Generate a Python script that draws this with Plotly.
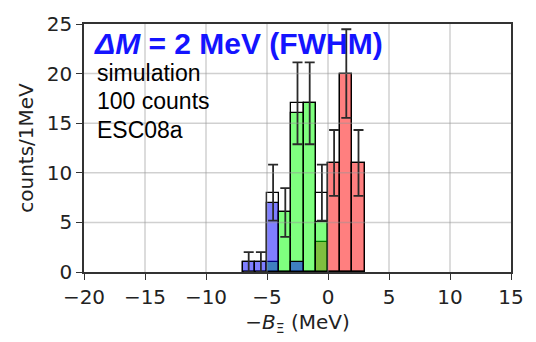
import numpy as np
import plotly.graph_objects as go

# 1 MeV bins (left edges) and counts per component
bin_left = [-7, -6, -5, -4, -3, -2, -1, 0, 1, 2]
total = [1, 1, 8, 6, 17, 17, 8, 11, 20, 11]
blue = [1, 1, 7, 0, 1, 0, 0, 0, 0, 0]
green = [0, 0, 1, 6, 16, 17, 5, 0, 0, 0]
red = [0, 0, 0, 0, 0, 0, 3, 11, 20, 11]

x_ticks = [-20, -15, -10, -5, 0, 5, 10, 15]
y_ticks = [0, 5, 10, 15, 20, 25]

centers = [b + 0.5 for b in bin_left]
errors = [float(np.sqrt(v)) for v in total]

edge = dict(color="black", width=1.3)

fig = go.Figure()
fig.add_trace(go.Bar(x=centers, y=total, width=1, marker=dict(color="white", line=edge)))
fig.add_trace(go.Bar(x=centers, y=red, width=1, marker=dict(color="rgba(255,0,0,0.5)", line=edge)))
fig.add_trace(go.Bar(x=centers, y=green, width=1, marker=dict(color="rgba(0,255,0,0.5)", line=edge)))
fig.add_trace(go.Bar(x=centers, y=blue, width=1, marker=dict(color="rgba(0,0,255,0.5)", line=edge)))
# Poisson error bars on the total counts
fig.add_trace(go.Scatter(
    x=centers, y=total, mode="markers",
    marker=dict(size=1, color="rgba(0,0,0,0)"),
    error_y=dict(type="data", array=errors, visible=True, color="#2a2a2a",
                 thickness=1.8, width=5),
))

# grid drawn over the bars, semi-transparent
shapes = []
for xv in x_ticks[1:-1]:
    shapes.append(dict(type="line", xref="x", yref="paper", x0=xv, x1=xv, y0=0, y1=1,
                       line=dict(color="rgba(150,150,150,0.45)", width=1.5), layer="above"))
for yv in y_ticks[1:-1]:
    shapes.append(dict(type="line", xref="paper", yref="y", x0=0, x1=1, y0=yv, y1=yv,
                       line=dict(color="rgba(150,150,150,0.45)", width=1.5), layer="above"))

tick_font = dict(family="DejaVu Sans", size=20, color="#222222")
axis_common = dict(showgrid=False, zeroline=False, showline=True, linecolor="#333333",
                   linewidth=1.5, mirror=True, ticks="outside", ticklen=6, tickwidth=1.3,
                   tickcolor="#333333", tickfont=tick_font)

fig.update_layout(
    width=536, height=342,
    margin=dict(l=84, r=23, t=16, b=69),
    paper_bgcolor="white", plot_bgcolor="white",
    barmode="overlay", bargap=0, showlegend=False,
    shapes=shapes,
    xaxis=dict(range=[-20, 15], tickvals=x_ticks, **axis_common,
               title=dict(text="−<i>B</i><sub>Ξ</sub> (MeV)", standoff=7,
                          font=dict(family="DejaVu Sans", size=20, color="#222222"))),
    yaxis=dict(range=[0, 25], tickvals=y_ticks, **axis_common,
               title=dict(text="counts/1MeV", standoff=8,
                          font=dict(family="DejaVu Sans", size=20, color="#222222"))),
    annotations=[
        dict(text="<b><i>ΔM</i> = 2 MeV (FWHM)</b>", xref="paper", yref="paper",
             x=0.018, y=0.92, xanchor="left", yanchor="middle", showarrow=False,
             font=dict(family="Liberation Sans", size=30, color="#1414ff")),
        dict(text="simulation", xref="paper", yref="paper", x=0.025, y=0.801,
             xanchor="left", yanchor="middle", showarrow=False,
             font=dict(family="Liberation Sans", size=23, color="black")),
        dict(text="100 counts", xref="paper", yref="paper", x=0.025, y=0.689,
             xanchor="left", yanchor="middle", showarrow=False,
             font=dict(family="Liberation Sans", size=23, color="black")),
        dict(text="ESC08a", xref="paper", yref="paper", x=0.025, y=0.572,
             xanchor="left", yanchor="middle", showarrow=False,
             font=dict(family="Liberation Sans", size=23, color="black")),
    ],
)

fig.write_html("out.html")
